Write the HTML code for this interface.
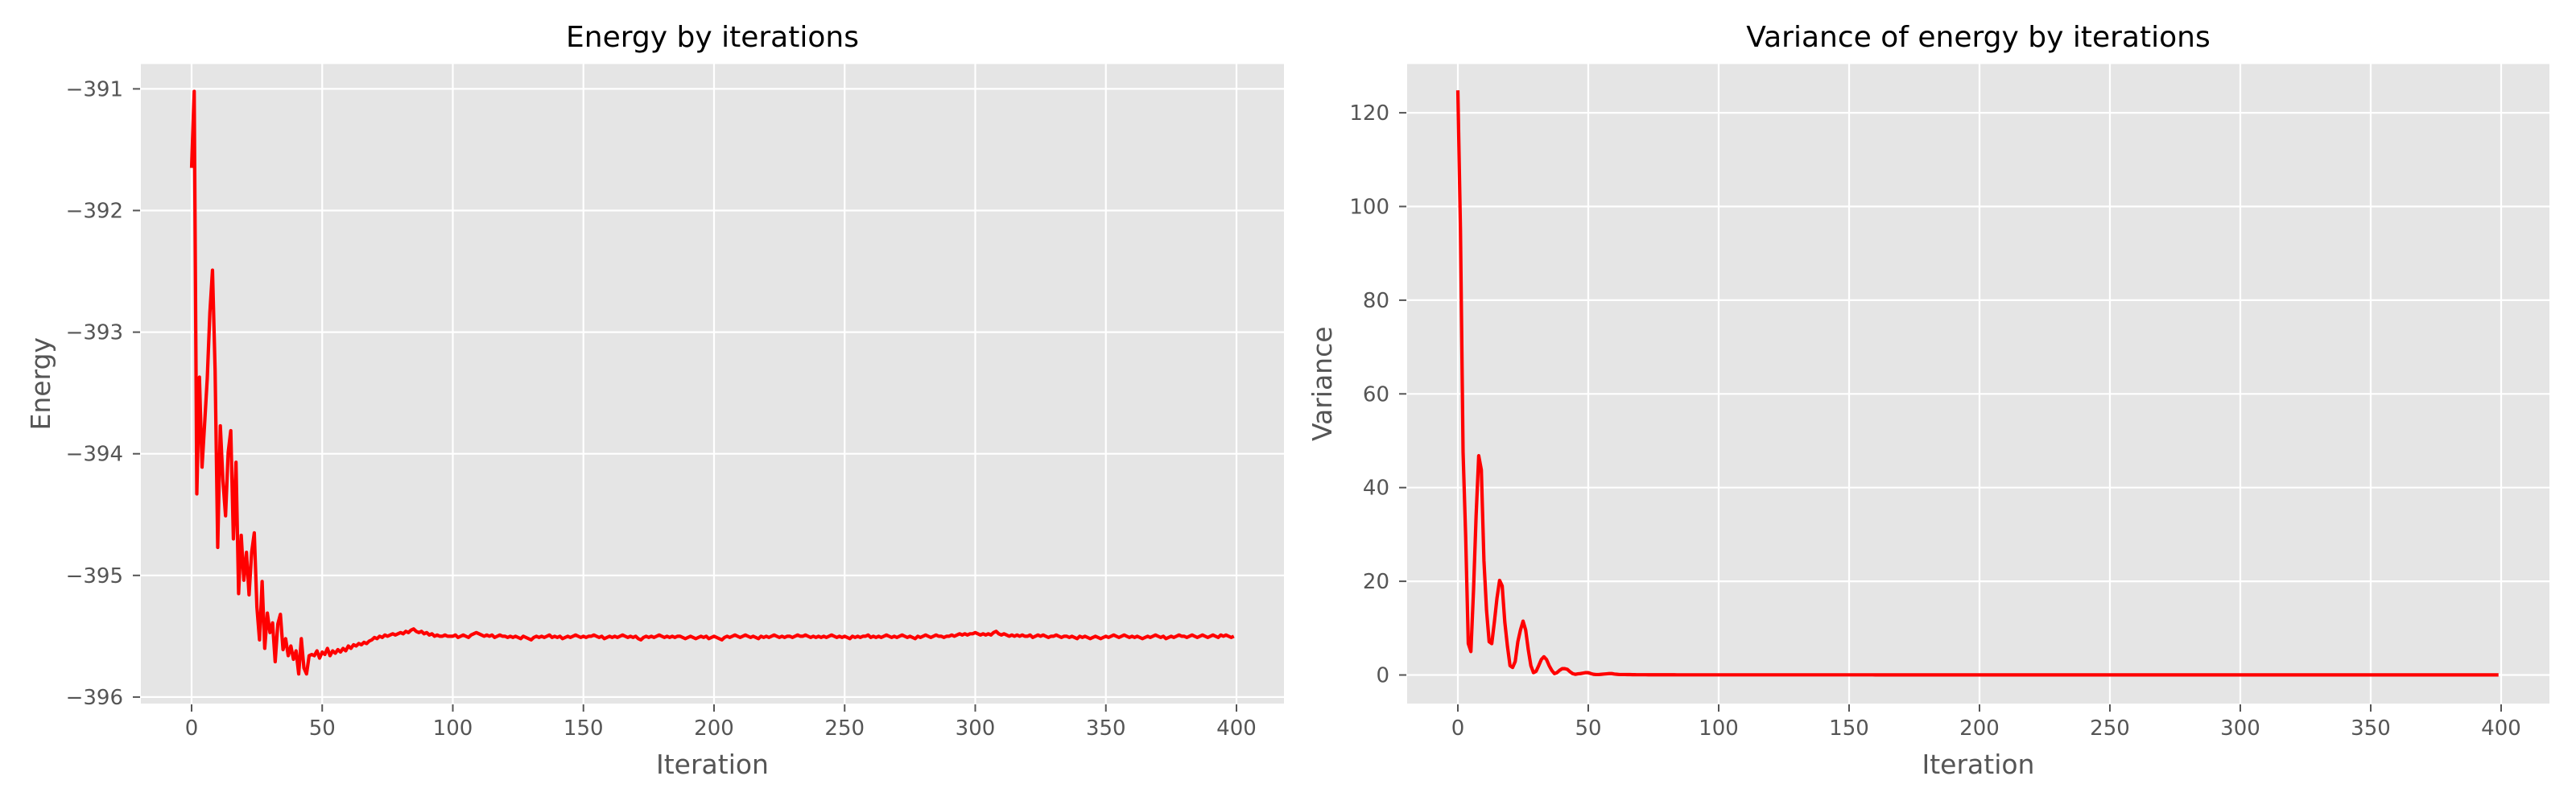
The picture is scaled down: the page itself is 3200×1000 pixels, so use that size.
<!DOCTYPE html>
<html><head><meta charset="utf-8"><style>
html,body{margin:0;padding:0;background:#fff;width:3200px;height:1000px;overflow:hidden}
svg text{font-family:"DejaVu Sans","Liberation Sans",sans-serif}
</style></head><body>
<svg id="fig" width="3200" height="1000" viewBox="0 0 3200 1000" xmlns="http://www.w3.org/2000/svg">
<rect x="0" y="0" width="3200" height="1000" fill="#fff"/>
<g id="left"></g>
<g id="right"></g>
</svg>
<script>
const xTicks = [0,50,100,150,200,250,300,350,400];
const energyTicks = [-391,-392,-393,-394,-395,-396];
const varianceTicks = [0,20,40,60,80,100,120];
const energy = [
-391.65,-391.02,-394.33,-393.37,-394.11,-393.75,-393.38,-392.84,-392.49,-393.31,
-394.77,-393.77,-394.22,-394.51,-393.99,-393.81,-394.70,-394.07,-395.15,-394.67,
-395.04,-394.81,-395.16,-394.81,-394.65,-395.26,-395.53,-395.05,-395.60,-395.31,
-395.47,-395.39,-395.71,-395.40,-395.32,-395.61,-395.52,-395.66,-395.58,-395.69,
-395.62,-395.81,-395.52,-395.76,-395.81,-395.66,-395.65,-395.66,-395.62,-395.68,
-395.63,-395.65,-395.60,-395.66,-395.62,-395.64,-395.61,-395.63,-395.60,-395.62,
-395.58,-395.60,-395.57,-395.58,-395.56,-395.57,-395.55,-395.56,-395.54,-395.53,
-395.51,-395.52,-395.50,-395.51,-395.49,-395.50,-395.49,-395.48,-395.49,-395.48,
-395.47,-395.48,-395.46,-395.47,-395.45,-395.44,-395.46,-395.47,-395.46,-395.48,
-395.47,-395.49,-395.48,-395.50,-395.49,-395.50,-395.50,-395.49,-395.50,-395.50,
-395.50,-395.49,-395.51,-395.50,-395.49,-395.50,-395.51,-395.49,-395.48,-395.47,
-395.48,-395.49,-395.50,-395.49,-395.50,-395.49,-395.51,-395.50,-395.49,-395.50,
-395.50,-395.51,-395.50,-395.51,-395.50,-395.51,-395.52,-395.50,-395.51,-395.52,
-395.53,-395.51,-395.50,-395.51,-395.50,-395.51,-395.50,-395.49,-395.51,-395.50,
-395.51,-395.50,-395.52,-395.51,-395.50,-395.51,-395.50,-395.49,-395.50,-395.51,
-395.50,-395.51,-395.50,-395.50,-395.49,-395.50,-395.51,-395.50,-395.52,-395.51,
-395.50,-395.51,-395.50,-395.51,-395.50,-395.49,-395.50,-395.51,-395.50,-395.51,
-395.50,-395.52,-395.53,-395.51,-395.50,-395.51,-395.50,-395.51,-395.50,-395.49,
-395.50,-395.51,-395.50,-395.51,-395.50,-395.51,-395.50,-395.50,-395.51,-395.52,
-395.51,-395.50,-395.51,-395.52,-395.51,-395.50,-395.51,-395.50,-395.52,-395.51,
-395.50,-395.51,-395.52,-395.53,-395.51,-395.50,-395.51,-395.50,-395.49,-395.50,
-395.51,-395.50,-395.49,-395.50,-395.51,-395.50,-395.51,-395.52,-395.50,-395.51,
-395.50,-395.51,-395.50,-395.49,-395.50,-395.51,-395.50,-395.51,-395.50,-395.50,
-395.51,-395.50,-395.49,-395.50,-395.50,-395.49,-395.50,-395.51,-395.50,-395.51,
-395.50,-395.51,-395.50,-395.51,-395.50,-395.49,-395.50,-395.51,-395.50,-395.51,
-395.50,-395.51,-395.52,-395.50,-395.51,-395.50,-395.51,-395.50,-395.50,-395.49,
-395.51,-395.50,-395.51,-395.50,-395.51,-395.50,-395.49,-395.50,-395.51,-395.50,
-395.51,-395.50,-395.49,-395.50,-395.51,-395.50,-395.51,-395.52,-395.50,-395.51,
-395.50,-395.49,-395.50,-395.51,-395.50,-395.49,-395.50,-395.50,-395.51,-395.50,
-395.50,-395.49,-395.50,-395.49,-395.48,-395.49,-395.48,-395.49,-395.48,-395.48,
-395.47,-395.48,-395.49,-395.48,-395.49,-395.48,-395.49,-395.47,-395.46,-395.48,
-395.49,-395.48,-395.49,-395.50,-395.49,-395.50,-395.49,-395.50,-395.49,-395.50,
-395.50,-395.49,-395.51,-395.50,-395.49,-395.50,-395.49,-395.50,-395.51,-395.50,
-395.50,-395.49,-395.50,-395.51,-395.50,-395.50,-395.51,-395.50,-395.51,-395.52,
-395.50,-395.51,-395.50,-395.51,-395.52,-395.51,-395.50,-395.51,-395.52,-395.51,
-395.50,-395.51,-395.50,-395.49,-395.50,-395.51,-395.50,-395.49,-395.50,-395.51,
-395.50,-395.51,-395.50,-395.51,-395.52,-395.51,-395.50,-395.51,-395.50,-395.49,
-395.50,-395.51,-395.50,-395.52,-395.51,-395.50,-395.51,-395.50,-395.49,-395.50,
-395.50,-395.51,-395.50,-395.49,-395.50,-395.51,-395.50,-395.49,-395.50,-395.51,
-395.50,-395.49,-395.50,-395.51,-395.49,-395.50,-395.49,-395.50,-395.51,-395.50
];
const variance = [
124.8,95,47.6,29.5,6.7,5.0,18.0,34.0,46.8,43.8,
24.4,13.8,7.1,6.7,11.3,16.4,20.2,19.0,11.3,6.2,
2.0,1.6,2.9,7.1,9.6,11.5,9.6,5.4,2.0,0.5,
0.8,2.0,3.3,3.9,3.3,2.0,1.0,0.3,0.5,1.0,
1.35,1.35,1.2,0.7,0.3,0.15,0.25,0.3,0.4,0.5,
0.5,0.3,0.15,0.1,0.1,0.15,0.2,0.25,0.3,0.3,
0.2,0.15,0.1,0.1,0.1,0.08,0.08,0.06,0.06,0.05,
0.05,0.05,0.05,0.04,0.04,0.04,0.04,0.04,0.04,0.04,
0.04,0.04,0.04,0.04,0.03,0.03,0.03,0.03,0.03,0.03,
0.03,0.03,0.03,0.03,0.03,0.03,0.03,0.03,0.03,0.03,
0.03,0.03,0.03,0.03,0.03,0.03,0.03,0.03,0.03,0.03,
0.03,0.03,0.03,0.03,0.03,0.03,0.03,0.03,0.03,0.03,
0.03,0.03,0.03,0.03,0.03,0.03,0.03,0.03,0.03,0.03,
0.03,0.03,0.03,0.03,0.03,0.03,0.03,0.03,0.03,0.03,
0.03,0.03,0.03,0.03,0.03,0.03,0.03,0.03,0.03,0.03,
0.03,0.03,0.03,0.03,0.03,0.03,0.03,0.03,0.03,0.03,
0.02,0.02,0.02,0.02,0.02,0.02,0.02,0.02,0.02,0.02,
0.02,0.02,0.02,0.02,0.02,0.02,0.02,0.02,0.02,0.02,
0.02,0.02,0.02,0.02,0.02,0.02,0.02,0.02,0.02,0.02,
0.02,0.02,0.02,0.02,0.02,0.02,0.02,0.02,0.02,0.02,
0.02,0.02,0.02,0.02,0.02,0.02,0.02,0.02,0.02,0.02,
0.02,0.02,0.02,0.02,0.02,0.02,0.02,0.02,0.02,0.02,
0.02,0.02,0.02,0.02,0.02,0.02,0.02,0.02,0.02,0.02,
0.02,0.02,0.02,0.02,0.02,0.02,0.02,0.02,0.02,0.02,
0.02,0.02,0.02,0.02,0.02,0.02,0.02,0.02,0.02,0.02,
0.02,0.02,0.02,0.02,0.02,0.02,0.02,0.02,0.02,0.02,
0.02,0.02,0.02,0.02,0.02,0.02,0.02,0.02,0.02,0.02,
0.02,0.02,0.02,0.02,0.02,0.02,0.02,0.02,0.02,0.02,
0.02,0.02,0.02,0.02,0.02,0.02,0.02,0.02,0.02,0.02,
0.02,0.02,0.02,0.02,0.02,0.02,0.02,0.02,0.02,0.02,
0.02,0.02,0.02,0.02,0.02,0.02,0.02,0.02,0.02,0.02,
0.02,0.02,0.02,0.02,0.02,0.02,0.02,0.02,0.02,0.02,
0.02,0.02,0.02,0.02,0.02,0.02,0.02,0.02,0.02,0.02,
0.02,0.02,0.02,0.02,0.02,0.02,0.02,0.02,0.02,0.02,
0.02,0.02,0.02,0.02,0.02,0.02,0.02,0.02,0.02,0.02,
0.02,0.02,0.02,0.02,0.02,0.02,0.02,0.02,0.02,0.02,
0.02,0.02,0.02,0.02,0.02,0.02,0.02,0.02,0.02,0.02,
0.02,0.02,0.02,0.02,0.02,0.02,0.02,0.02,0.02,0.02,
0.02,0.02,0.02,0.02,0.02,0.02,0.02,0.02,0.02,0.02,
0.02,0.02,0.02,0.02,0.02,0.02,0.02,0.02,0.02,0.02
];

const NS = 'http://www.w3.org/2000/svg';
function mk(parent, tag, attrs, text){
  const e = document.createElementNS(NS, tag);
  for (const k in attrs) e.setAttribute(k, attrs[k]);
  if (text !== undefined) e.textContent = text;
  parent.appendChild(e);
  return e;
}
function fmt(v){ return v < 0 ? '\u2212' + Math.abs(v) : String(v); }

function drawChart(g, cfg){
  const {L,R,T,B,xs,ys,yTicks,values,title,ylabel,ylabelX,id} = cfg;
  const bg = mk(g,'rect',{x:L,y:T,width:R-L,height:B-T,fill:'#E5E5E5'});
  
  
  yTicks.forEach(t=>{
    const y = ys(t);
    const gl = mk(g,'line',{x1:L,x2:R,y1:y,y2:y,stroke:'#fff','stroke-width':2.2});
    
    
    const tk = mk(g,'line',{x1:L-10,x2:L-1,y1:y,y2:y,stroke:'#555','stroke-width':2});
    
    
    const lb = mk(g,'text',{x:L-22,y:y+9,'text-anchor':'end','font-size':26,fill:'#555'},fmt(t));
    
    
  });
  xTicks.forEach(t=>{
    const x = xs(t);
    const gl = mk(g,'line',{x1:x,x2:x,y1:T,y2:B,stroke:'#fff','stroke-width':2.2});
    
    
    const tk = mk(g,'line',{x1:x,x2:x,y1:B+1,y2:B+10,stroke:'#555','stroke-width':2});
    
    
    const lb = mk(g,'text',{x:x,y:B+39,'text-anchor':'middle','font-size':26,fill:'#555'},fmt(t));
    
    
  });
  const cp = mk(g,'clipPath',{id:id+'-clip'});
  mk(cp,'rect',{x:L,y:T,width:R-L,height:B-T});
  const pts = values.map((v,i)=>xs(i).toFixed(2)+','+ys(v).toFixed(2)).join(' ');
  const line = mk(g,'polyline',{points:pts,fill:'none',stroke:'#FF0000','stroke-width':4.2,'stroke-linejoin':'round','clip-path':'url(#'+id+'-clip)'});
  
  
  const tt = mk(g,'text',{x:(L+R)/2,y:58,'text-anchor':'middle','font-size':36,fill:'#000'},title);
  
  
  const xl = mk(g,'text',{x:(L+R)/2,y:961,'text-anchor':'middle','font-size':33,fill:'#555'},'Iteration');
  
  
  const cy = (T+B)/2;
  const yl = mk(g,'text',{x:ylabelX,y:cy,'text-anchor':'middle','font-size':33,fill:'#555',transform:'rotate(-90 '+ylabelX+' '+cy+')'},ylabel);
  
  
}

drawChart(document.getElementById('left'),{
  id:'energy', L:175, R:1595, T:79.5, B:874,
  xs:i=>238+i*3.245, ys:e=>110.4+(-391-e)*151.1,
  yTicks:energyTicks, values:energy,
  title:'Energy by iterations', ylabel:'Energy', ylabelX:62
});
drawChart(document.getElementById('right'),{
  id:'variance', L:1748, R:3167, T:79.5, B:874,
  xs:i=>1811+i*3.24, ys:v=>838.5-v*5.82,
  yTicks:varianceTicks, values:variance,
  title:'Variance of energy by iterations', ylabel:'Variance', ylabelX:1654
});
</script>
</body></html>
